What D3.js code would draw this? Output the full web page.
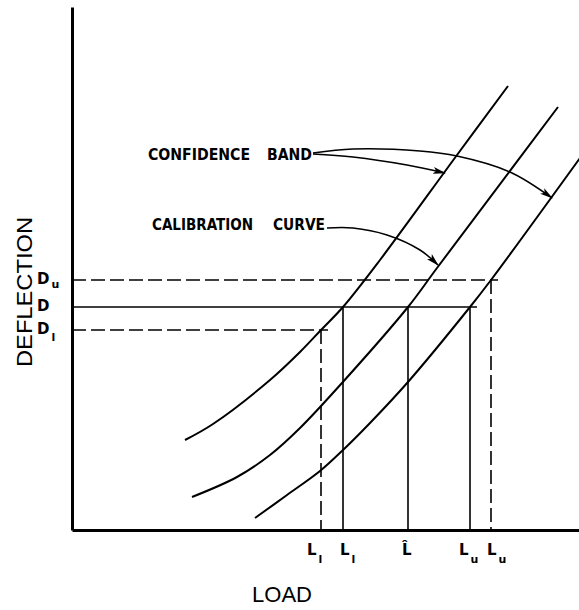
<!DOCTYPE html>
<html>
<head>
<meta charset="utf-8">
<script src="https://cdn.jsdelivr.net/npm/d3@7"></script>
<style>
  body { margin: 0; background: #fff; }
  svg { display: block; }
  .curve { fill: none; stroke: #000; stroke-width: 2; }
  .ref { fill: none; stroke: #000; stroke-width: 1.6; }
  .ref.dashed { stroke-dasharray: 14,5; }
  .leader { fill: none; stroke: #000; stroke-width: 1.5; }
  .axis path { stroke: #000; stroke-width: 3; }
  .note { font-family: "DejaVu Sans Condensed", "DejaVu Sans", sans-serif; font-weight: bold; font-size: 16px; }
  .tick-lbl { font-family: "DejaVu Sans", sans-serif; font-weight: bold; font-size: 15px; }
  .sub { font-size: 11px; }
  .title { font-family: "Liberation Sans", Arial, sans-serif; font-size: 22px; }
</style>
</head>
<body>
<svg id="chart" width="579" height="610"></svg>
<script>
// Кривые: load / deflection в условных единицах
const upperBand = [
  [22.6, 18], [28.2, 21.2], [39.6, 30], [45.6, 35.6], [49.8, 40],
  [54.2, 44.6], [61.6, 54], [77, 75], [87.2, 88.8]
]
const calibration = [
  [24, 6.6], [33, 10.6], [39.6, 15], [45.6, 20.4], [54, 29.4],
  [67.2, 44.6], [73, 52.4], [97.2, 84.6]
]
const lowerBand = [
  [36.6, 2.4], [43, 7], [49.6, 11.8], [54, 15.8], [59.6, 21.4],
  [67.2, 29.6], [79.6, 44.6], [83.8, 50], [101.6, 74.4]
]

// Уровни прогиба и соответствующие нагрузки
const deflections = [
  { name: 'D', sub: 'u', value: 50, to: 83.8, dashed: true },
  { name: 'D', sub: '', value: 44.6, to: 79.6, dashed: false },
  { name: 'D', sub: 'l', value: 40, to: 49.8, dashed: true },
]
const loads = [
  { name: 'L', sub: 'l', value: 49.8, from: 40, dashed: true },
  { name: 'L', sub: 'l', value: 54.2, from: 44.6, dashed: false },
  { name: 'L\u0302', sub: '', value: 67.2, from: 44.6, dashed: false },
  { name: 'L', sub: 'u', value: 79.6, from: 44.6, dashed: false },
  { name: 'L', sub: 'u', value: 83.8, from: 50, dashed: true },
]

// Выноски подписей
const bandLeaderA = [[48.2, 75.2], [56.2, 74.6], [67, 73], [74.6, 71.4]]
const bandLeaderB = [[48.2, 75.4], [56.2, 76.2], [69.6, 75.8], [77, 74.8], [87.6, 71.6], [96, 66.4]]
const calLeader = [[51, 60.4], [56.2, 60.4], [63, 59], [69.6, 56], [73.2, 53]]

const svg = d3.select('#chart')
const x = d3.scaleLinear().domain([0, 101.4]).range([72, 579])
const y = d3.scaleLinear().domain([0, 104.6]).range([530, 7])

const defs = svg.append('defs')
defs.append('marker')
  .attr('id', 'arrow')
  .attr('viewBox', '-12 -4 13 8')
  .attr('refX', 0).attr('refY', 0)
  .attr('markerUnits', 'userSpaceOnUse')
  .attr('markerWidth', 13).attr('markerHeight', 8)
  .attr('orient', 'auto')
  .append('path')
  .attr('d', 'M1,0 L-12,-3.5 L-9,0 L-12,3.5 Z')
  .attr('fill', '#000')

// Оси без делений
svg.append('g')
  .attr('class', 'axis')
  .attr('transform', `translate(${x(0)},0)`)
  .call(d3.axisLeft(y).tickValues([]).tickSizeOuter(0))
svg.append('g')
  .attr('class', 'axis')
  .attr('transform', `translate(0,${y(0)})`)
  .call(d3.axisBottom(x).tickValues([]).tickSizeOuter(0))

const overshoot = 1.4

// Горизонтальные линии уровней
svg.selectAll('.hline')
  .data(deflections)
  .enter()
  .append('line')
  .attr('class', d => 'ref' + (d.dashed ? ' dashed' : ''))
  .attr('x1', x(0)).attr('x2', d => x(d.to + overshoot))
  .attr('y1', d => y(d.value)).attr('y2', d => y(d.value))

// Вертикальные линии нагрузок
svg.selectAll('.vline')
  .data(loads)
  .enter()
  .append('line')
  .attr('class', d => 'ref' + (d.dashed ? ' dashed' : ''))
  .attr('x1', d => x(d.value)).attr('x2', d => x(d.value))
  .attr('y1', d => y(d.from)).attr('y2', y(0))

const line = d3.line().x(d => x(d[0])).y(d => y(d[1])).curve(d3.curveCatmullRom)

;[upperBand, calibration, lowerBand].forEach(s => {
  svg.append('path').attr('class', 'curve').attr('d', line(s))
})

;[bandLeaderA, bandLeaderB, calLeader].forEach(s => {
  svg.append('path').attr('class', 'leader').attr('d', line(s)).attr('marker-end', 'url(#arrow)')
})

// Подписи уровней прогиба
deflections.forEach(d => {
  const t = svg.append('text')
    .attr('class', 'tick-lbl')
    .attr('x', 37)
    .attr('y', y(d.value) + 4)
    .text(d.name)
  if (d.sub) {
    t.append('tspan').attr('class', 'sub').attr('dx', 2).attr('dy', d.sub === 'l' ? 7 : 4).text(d.sub)
  }
})

// Подписи нагрузок (сдвиг, чтобы пары не налезали)
const loadShift = [-8, 3, 0, -5, 2]
loads.forEach((d, i) => {
  const cx = x(d.value) + loadShift[i]
  const t = svg.append('text')
    .attr('class', 'tick-lbl')
    .attr('x', cx - 6)
    .attr('y', 555)
    .text(d.name)
  if (d.sub) {
    t.append('tspan').attr('class', 'sub').attr('dx', 2).attr('dy', 8).text(d.sub)
  }
})

// Текстовые пометки
const notes = [
  { text: 'CONFIDENCE', x: 148, y: 160, w: 102 },
  { text: 'BAND', x: 267, y: 160, w: 45 },
  { text: 'CALIBRATION', x: 152, y: 230, w: 101 },
  { text: 'CURVE', x: 273, y: 230, w: 52 },
]
svg.selectAll('.note')
  .data(notes)
  .enter()
  .append('text')
  .attr('class', 'note')
  .attr('x', d => d.x).attr('y', d => d.y)
  .attr('textLength', d => d.w)
  .attr('lengthAdjust', 'spacingAndGlyphs')
  .text(d => d.text)

svg.append('text')
  .attr('class', 'title')
  .attr('x', 282).attr('y', 602)
  .attr('text-anchor', 'middle')
  .attr('textLength', 60)
  .attr('lengthAdjust', 'spacingAndGlyphs')
  .text('LOAD')

svg.append('text')
  .attr('class', 'title')
  .attr('transform', 'translate(32,292) rotate(-90)')
  .attr('text-anchor', 'middle')
  .attr('textLength', 150)
  .attr('lengthAdjust', 'spacingAndGlyphs')
  .text('DEFLECTION')
</script>
</body>
</html>
